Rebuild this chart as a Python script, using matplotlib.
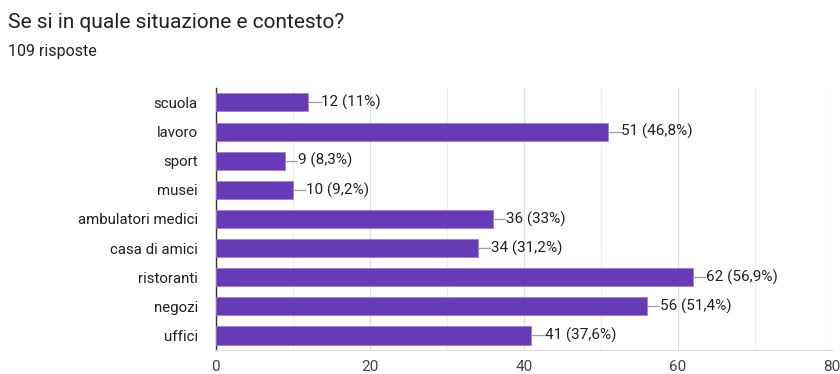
import matplotlib
matplotlib.use("Agg")
from matplotlib import pyplot as plt

plt.rcParams['font.family'] = ['Roboto', 'DejaVu Sans']

categories = ["scuola", "lavoro", "sport", "musei", "ambulatori medici",
              "casa di amici", "ristoranti", "negozi", "uffici"]
counts = [12, 51, 9, 10, 36, 34, 62, 56, 41]
percents = ["11%", "46,8%", "8,3%", "9,2%", "33%", "31,2%", "56,9%", "51,4%", "37,6%"]
x_ticks = [0, 20, 40, 60, 80]

bar_color = "#673ab7"
text_color = "#212121"

fig = plt.figure(figsize=(8.4, 3.74), dpi=100)
fig.text(0.0095, 0.94, "Se si in quale situazione e contesto?", fontsize=15,
         color=text_color, va="center")
fig.text(0.0095, 0.862, "109 risposte", fontsize=11.5, color=text_color, va="center")

ax = fig.add_axes([0.257, 0.064, 0.733, 0.701])
y = list(range(len(categories)))
ax.barh(y, counts, height=0.62, color=bar_color, edgecolor="#9c80d4", linewidth=0.6, zorder=3)

# leader line + value label after each bar
for yi, c, p in zip(y, counts, percents):
    ax.plot([c, c + 1.6], [yi, yi], color="#9e9e9e", linewidth=0.9, zorder=3)
    ax.text(c + 1.7, yi, f"{c} ({p})", va="center", ha="left", fontsize=11,
            color=text_color, zorder=4)

ax.set_xlim(0, 80)
ax.set_ylim(len(categories) - 0.5, -0.5)
ax.set_yticks(y)
ax.set_yticklabels(categories, fontsize=10.8, color=text_color)
ax.set_xticks(x_ticks)
ax.set_xticklabels([str(t) for t in x_ticks], fontsize=11, color="#444444")
ax.set_xticks(range(10, 80, 20), minor=True)
ax.tick_params(axis="both", which="both", length=0)
ax.tick_params(axis="y", pad=13)
ax.tick_params(axis="x", pad=7)
ax.grid(axis="x", which="major", color="#e0e0e0", linewidth=0.9, zorder=0)
ax.grid(axis="x", which="minor", color="#f0f0f0", linewidth=0.9, zorder=0)

for side in ["top", "right"]:
    ax.spines[side].set_visible(False)
ax.spines["bottom"].set_color("#e0e0e0")
ax.spines["left"].set_color("#333333")
ax.spines["left"].set_linewidth(1.0)

fig.savefig("out.png", dpi=100)
